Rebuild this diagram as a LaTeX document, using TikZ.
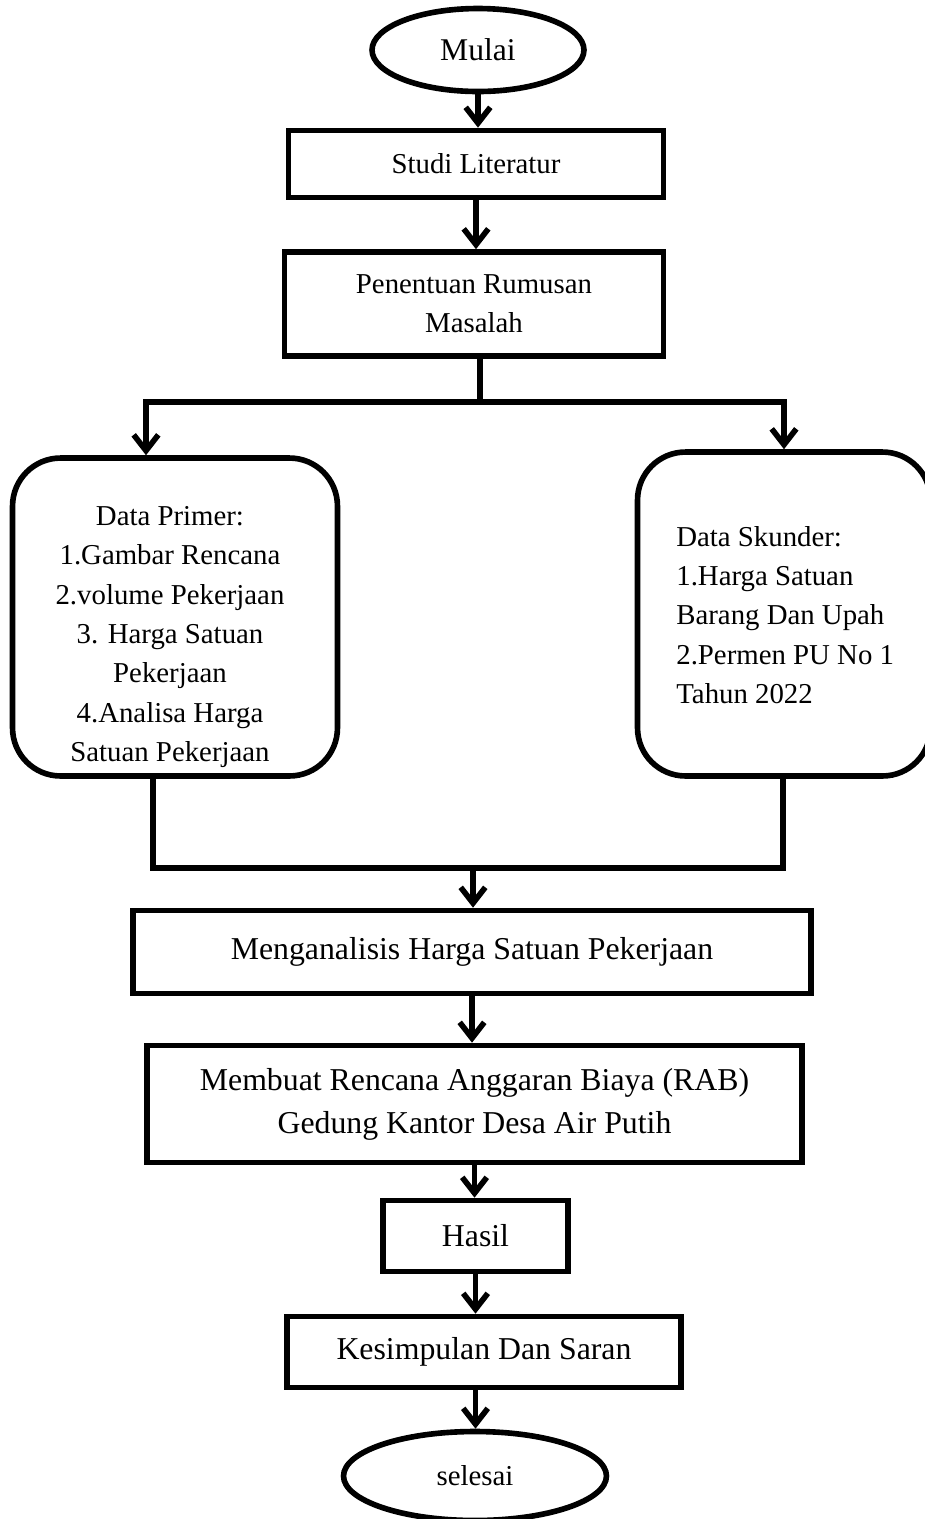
\documentclass[tikz,border=0pt]{standalone}
\usepackage{fontspec}
\setmainfont{Liberation Serif}
\usetikzlibrary{shapes.geometric,arrows.meta}

\tikzset{
  garis/.style={line width=3.2pt},
  panah/.style={garis,-{Straight Barb[length=9pt,width=14pt]}},
  kotak/.style={draw,garis,rectangle,inner sep=0pt,align=center,font=\fontsize{18.1}{24.4}\selectfont},
  kotakkecil/.style={kotak,font=\fontsize{16.4}{22.1}\selectfont},
  terminal/.style={draw,garis,ellipse,inner sep=0pt,font=\fontsize{18}{22}\selectfont},
  kotakdata/.style={draw,garis,rectangle,rounded corners=0.96cm,inner sep=0pt},
  isidata/.style={font=\fontsize{16.4}{22.4}\selectfont,inner sep=0pt}
}

\begin{document}
\begin{tikzpicture}[x=0.02cm,y=-0.02cm]
\useasboundingbox (0,0) rectangle (925,1519);

% start
\node[terminal,minimum width=4.24cm,minimum height=1.66cm] (mulai) at (478,50) {Mulai};

% boxes
\node[kotakkecil,minimum width=7.5cm,minimum height=1.34cm] (studi) at (476,164) {Studi Literatur};
\node[kotakkecil,minimum width=7.58cm,minimum height=2.08cm] (rumusan) at (474,304) {Penentuan Rumusan\\Masalah};

% data
\node[kotakdata,minimum width=6.5cm,minimum height=6.36cm] (primer) at (175,617) {};
\node[isidata,align=center] (primertxt) at (170,637) {Data Primer:\\1.Gambar Rencana\\2.volume Pekerjaan\\3. Harga Satuan\\Pekerjaan\\4.Analisa Harga\\Satuan Pekerjaan};
\node[kotakdata,minimum width=5.86cm,minimum height=6.48cm] (skunder) at (784,614) {};
\node[isidata,align=left,anchor=west] (skundertxt) at (676,615) {Data Skunder:\\1.Harga Satuan\\Barang Dan Upah\\2.Permen PU No 1\\Tahun 2022};

\node[kotak,minimum width=13.56cm,minimum height=1.66cm] (analisis) at (472,952) {Menganalisis Harga Satuan Pekerjaan};
\node[kotak,minimum width=13.1cm,minimum height=2.34cm] (rab) at (474.5,1104) {Membuat Rencana Anggaran Biaya (RAB)\\Gedung Kantor Desa Air Putih};
\node[kotak,minimum width=3.7cm,minimum height=1.42cm] (hasil) at (475.5,1236) {Hasil};
\node[kotak,minimum width=7.88cm,minimum height=1.42cm] (simpulan) at (484,1352) {Kesimpulan Dan Saran};

% end
\node[terminal,font=\fontsize{16.4}{20}\selectfont,minimum width=5.26cm,minimum height=1.78cm] (selesai) at (475,1476) {selesai};

% branch points
\coordinate (cabang) at (480,402);
\coordinate (kiri) at (146,402);
\coordinate (kanan) at (784,402);
\coordinate (gabungkiri) at (153,868);
\coordinate (gabungkanan) at (783,868);
\coordinate (gabung) at (473,868);

% arrows
\draw[panah] (mulai.south) -- (mulai.south |- studi.north);
\draw[panah] (studi.south) -- (studi.south |- rumusan.north);
\draw[garis] (rumusan.south -| cabang) -- (cabang);
\draw[garis,line cap=rect] (kiri) -- (kanan);
\draw[panah] (kiri) -- (kiri |- primer.north);
\draw[panah] (kanan) -- (kanan |- skunder.north);
\draw[garis,line join=miter] (primer.south -| gabungkiri) -- (gabungkiri) -- (gabungkanan) -- (skunder.south -| gabungkanan);
\draw[panah] (gabung) -- (gabung |- analisis.north);
\draw[panah] (analisis.south) -- (analisis.south |- rab.north);
\draw[panah] (rab.south) -- (rab.south |- hasil.north);
\draw[panah] (hasil.south) -- (hasil.south |- simpulan.north);
\draw[panah] (simpulan.south -| hasil.south) -- (hasil.south |- selesai.north);

\end{tikzpicture}
\end{document}
